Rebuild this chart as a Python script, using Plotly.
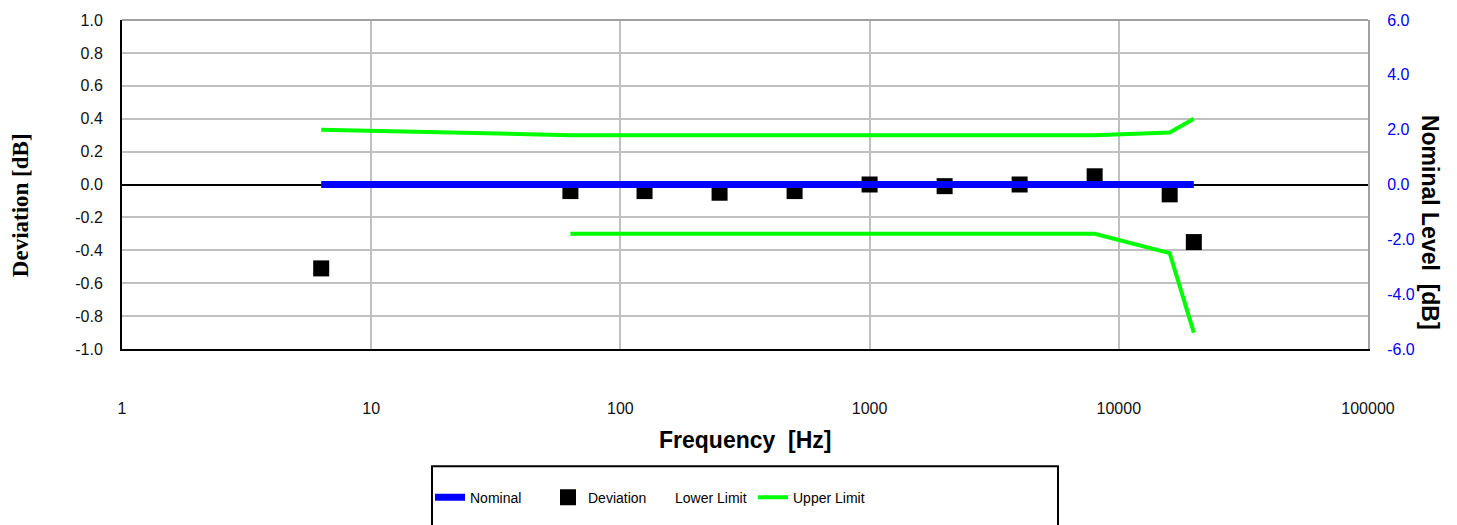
import plotly.graph_objects as go

# ---- data ----
freq = [6.3, 63, 125, 250, 500, 1000, 2000, 4000, 8000, 16000, 20000]
deviation = [-0.51, -0.04, -0.04, -0.05, -0.04, 0.0, -0.01, 0.0, 0.05, -0.06, -0.35]
nominal = [0.0] * len(freq)
upper_limit = [2.0, 1.8, 1.8, 1.8, 1.8, 1.8, 1.8, 1.8, 1.8, 1.9, 2.4]
lower_limit = [None, -1.8, -1.8, -1.8, -1.8, -1.8, -1.8, -1.8, -1.8, -2.5, -5.4]

x_ticks = [1, 10, 100, 1000, 10000, 100000]
x_tick_text = ["1", "10", "100", "1000", "10000", "100000"]
left_ticks = [-1.0, -0.8, -0.6, -0.4, -0.2, 0.0, 0.2, 0.4, 0.6, 0.8, 1.0]
right_ticks = [-6.0, -4.0, -2.0, 0.0, 2.0, 4.0, 6.0]

W, H = 1457, 525
L, R, T, B = 122, 1368, 16, 350  # plot area in pixels
GREEN = "rgb(0,255,0)"
BLUE = "rgb(0,0,255)"
GRID = "#c0c0c0"
SANS = "Liberation Sans, Arial, sans-serif"
SERIF = "Liberation Serif, Times New Roman, serif"


def px_x(p):
    return (p - L) / (R - L)


def px_y(p):
    return (B - p) / (B - T)


LEG_Y = px_y(501)


def leg(px):
    return dict(orientation="h", x=px_x(px), xanchor="left",
                y=LEG_Y, yanchor="middle", bgcolor="rgba(0,0,0,0)",
                borderwidth=0, itemwidth=30,
                font=dict(family=SANS, size=14, color="black"))


fig = go.Figure()

fig.add_trace(go.Scatter(
    x=freq, y=nominal, yaxis="y2", mode="lines", name="Nominal",
    line=dict(color=BLUE, width=7), legend="legend"))
fig.add_trace(go.Scatter(
    x=freq, y=deviation, yaxis="y", mode="markers", name="Deviation",
    marker=dict(symbol="square", size=16, color="black"), legend="legend2"))
fig.add_trace(go.Scatter(
    x=freq, y=lower_limit, yaxis="y2", mode="lines", name="Lower Limit",
    line=dict(color=GREEN, width=4), showlegend=False))
fig.add_trace(go.Scatter(
    x=[None], y=[None], yaxis="y2", mode="lines", name="Lower Limit",
    line=dict(color="rgba(0,0,0,0)", width=4), legend="legend3"))
fig.add_trace(go.Scatter(
    x=freq, y=upper_limit, yaxis="y2", mode="lines", name="Upper Limit",
    line=dict(color=GREEN, width=4), legend="legend4"))

fig.update_layout(
    width=W, height=H,
    margin=dict(l=L, r=W - R, t=T, b=H - B, pad=0),
    paper_bgcolor="white", plot_bgcolor="white",
    font=dict(family=SANS, size=16, color="black"),
    xaxis=dict(
        type="log", range=[0, 5], tickvals=x_ticks, ticktext=x_tick_text,
        showgrid=True, gridcolor=GRID, gridwidth=2,
        showline=True, linecolor="black", linewidth=2,
        ticks="", ticklabelstandoff=44, zeroline=False,
        tickfont=dict(size=16, color="#111"),
    ),
    yaxis=dict(
        range=[-1, 1], tickvals=left_ticks,
        ticktext=[f"{v:.1f}" for v in left_ticks],
        showgrid=True, gridcolor=GRID, gridwidth=2,
        zeroline=True, zerolinecolor="black", zerolinewidth=2,
        showline=True, linecolor="black", linewidth=2,
        ticks="", ticklabelstandoff=14,
        tickfont=dict(size=16, color="#111"),
    ),
    yaxis2=dict(
        range=[-6, 6], tickvals=right_ticks,
        ticktext=[f"{v:.1f}" for v in right_ticks],
        overlaying="y", side="right", showgrid=False, zeroline=False,
        showline=True, linecolor="#a0a0a0", linewidth=2,
        ticks="", ticklabelstandoff=14,
        tickfont=dict(size=16, color=BLUE),
    ),
    showlegend=True,
    legend=leg(430),
    legend2=leg(548),
    legend3=leg(635),
    legend4=leg(753),
    shapes=[
        dict(type="line", xref="paper", yref="paper", x0=0, x1=1, y0=1, y1=1,
             line=dict(color="#a0a0a0", width=2)),
        dict(type="rect", xref="paper", yref="paper",
             x0=px_x(432), x1=px_x(1058), y0=px_y(469), y1=px_y(540),
             line=dict(color="black", width=2), fillcolor="rgba(0,0,0,0)"),
    ],
    annotations=[
        dict(text="<b>Frequency  [Hz]</b>", xref="paper", yref="paper",
             x=px_x(745), y=px_y(442), showarrow=False,
             font=dict(family=SANS, size=23, color="black"),
             xanchor="center", yanchor="middle"),
        dict(text="<b>Deviation [dB]</b>", xref="paper", yref="paper",
             x=px_x(20), y=px_y(204), showarrow=False, textangle=-90,
             font=dict(family=SERIF, size=23, color="black"),
             xanchor="center", yanchor="middle"),
        dict(text="<b>Nominal Level  [dB]</b>", xref="paper", yref="paper",
             x=px_x(1430), y=px_y(221), showarrow=False, textangle=90,
             font=dict(family=SANS, size=23, color="black"),
             xanchor="center", yanchor="middle"),
    ],
)

fig.write_html(
    "out.html",
    config={"displayModeBar": False},
    post_script="document.body.style.margin='0px';"
                "document.body.style.overflow='hidden';",
)
